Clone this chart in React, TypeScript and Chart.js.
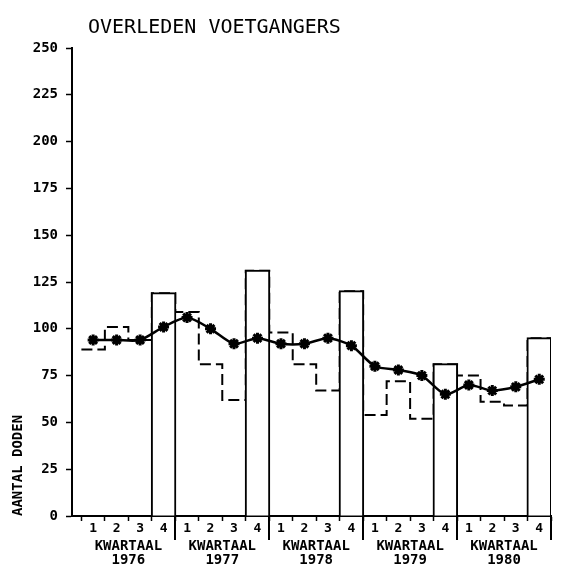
import React, { useEffect, useRef } from "react";
import { Chart, registerables } from "chart.js";

Chart.register(...registerables);

const TITLE = "OVERLEDEN VOETGANGERS";
const Y_TITLE = "AANTAL DODEN";
const YEARS = ["1976", "1977", "1978", "1979", "1980"];
const YEAR_PREFIX = "KWARTAAL";
const QUARTER_LABELS = ["1", "2", "3", "4"];
// deaths per quarter (Q1..Q4 of each year); the 4th quarter is drawn as a bar
const QUARTERLY = [89, 101, 94, 119, 109, 81, 62, 131, 98, 81, 67, 120, 54, 72, 52, 81, 75, 61, 59, 95];
// moving average, one point per quarter
const MOVING_AVG = [94, 94, 94, 101, 106, 100, 92, 95, 92, 92, 95, 91, 80, 78, 75, 65, 70, 67, 69, 73];
const Y_MIN = 0;
const Y_MAX = 250;
const Y_STEP = 25;

const FONT = "'DejaVu Sans Mono', monospace";

export default function App() {
  const ref = useRef<HTMLCanvasElement>(null);

  useEffect(() => {
    if (!ref.current) return;

    const overlay = {
      id: "overlay",
      afterDraw(chart: any) {
        const { ctx, chartArea, scales } = chart;
        const xs = scales.x;
        ctx.save();
        ctx.fillStyle = "#000";
        ctx.strokeStyle = "#000";
        // title
        ctx.font = `20px ${FONT}`;
        ctx.textBaseline = "middle";
        ctx.textAlign = "left";
        ctx.fillText(TITLE, chartArea.left + 16, 28);
        // year dividers + labels
        ctx.lineWidth = 2;
        ctx.font = `bold 14px ${FONT}`;
        ctx.textAlign = "center";
        YEARS.forEach((yr, k) => {
          const xEnd = Math.round(xs.getPixelForValue(4 * (k + 1)));
          ctx.beginPath();
          ctx.moveTo(xEnd, chartArea.bottom);
          ctx.lineTo(xEnd, chartArea.bottom + 24);
          ctx.stroke();
          const xc = xs.getPixelForValue(4 * k + 2);
          ctx.fillText(YEAR_PREFIX, xc, chartArea.bottom + 30);
          ctx.fillText(yr, xc, chartArea.bottom + 44);
        });
        ctx.restore();
      },
    };

    const chart = new Chart(ref.current, {
      type: "bar",
      data: {
        datasets: [
          {
            type: "line",
            label: "Voortschrijdend gemiddelde",
            data: MOVING_AVG.map((v, i) => ({ x: i + 0.5, y: v })),
            borderColor: "#000",
            borderWidth: 2.5,
            tension: 0.25,
            pointStyle: "star",
            pointRadius: 5.5,
            pointBorderWidth: 3,
            pointBorderColor: "#000",
            pointBackgroundColor: "#000",
            fill: false,
            order: 0,
          } as any,
          {
            type: "bar",
            label: "4e kwartaal",
            data: YEARS.map((_, k) => ({ x: 4 * k + 3.5, y: QUARTERLY[4 * k + 3] })),
            backgroundColor: "#fff",
            borderColor: "#000",
            borderWidth: 2,
            inflateAmount: 1,
            barThickness: "flex",
            categoryPercentage: 0.25,
            barPercentage: 1,
            order: 1,
          } as any,
          {
            type: "line",
            label: "Per kwartaal",
            data: [
              ...QUARTERLY.map((v, i) => ({ x: i, y: v })),
              { x: QUARTERLY.length, y: QUARTERLY[QUARTERLY.length - 1] },
            ],
            stepped: "before",
            borderColor: "#000",
            borderWidth: 2,
            borderDash: [11, 5],
            pointRadius: 0,
            fill: false,
            order: 2,
          } as any,
        ],
      },
      options: {
        responsive: false,
        animation: false,
        events: [],
        layout: { padding: { left: 6, right: 15, top: 48, bottom: 0 } },
        plugins: {
          legend: { display: false },
          tooltip: { enabled: false },
          title: { display: false },
        },
        scales: {
          x: {
            type: "linear",
            min: -0.4,
            max: QUARTERLY.length,
            offset: false,
            afterBuildTicks: (s: any) => {
              s.ticks = QUARTERLY.map((_, i) => ({ value: i + 0.5 }));
            },
            afterFit: (s: any) => {
              s.height = 51;
            },
            ticks: {
              callback: (_v: any, i: number) => QUARTER_LABELS[i % 4],
              font: { family: FONT, size: 13, weight: "bold" },
              color: "#000",
              padding: 0,
              maxRotation: 0,
              autoSkip: false,
            },
            grid: {
              offset: true,
              drawOnChartArea: false,
              tickLength: 5,
              tickColor: "#000",
              tickWidth: 1.5,
            },
            border: { color: "#000", width: 2 },
          } as any,
          y: {
            min: Y_MIN,
            max: Y_MAX,
            ticks: {
              stepSize: Y_STEP,
              font: { family: FONT, size: 14, weight: "bold" },
              color: "#000",
              padding: 8,
            },
            grid: {
              drawOnChartArea: false,
              tickLength: 6,
              tickColor: "#000",
              tickWidth: 1.5,
            },
            border: { color: "#000", width: 2 },
            title: {
              display: true,
              text: Y_TITLE,
              align: "start",
              color: "#000",
              font: { family: FONT, size: 14, weight: "bold" },
              padding: { top: 4, bottom: 0 },
            },
            afterFit: (s: any) => {
              s.width = 66;
            },
          } as any,
        },
      },
      plugins: [overlay],
    });

    return () => chart.destroy();
  }, []);

  return (
    <div style={{ position: "absolute", left: 0, top: 0, width: 566, height: 567, background: "#fff" }}>
      <canvas ref={ref} width={566} height={567} style={{ display: "block" }} />
    </div>
  );
}
